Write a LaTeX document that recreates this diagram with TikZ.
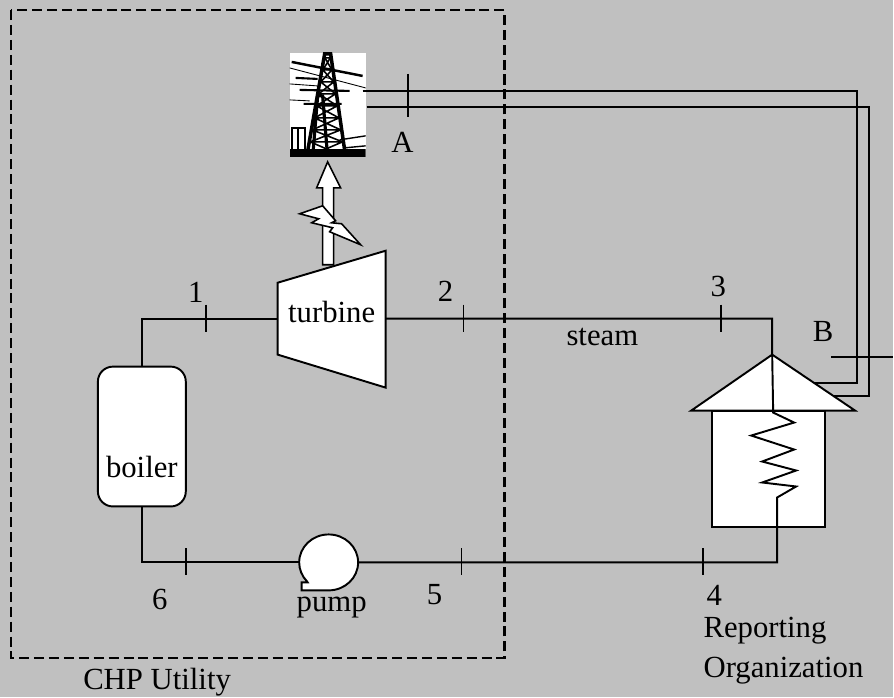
\documentclass[tikz,border=0pt]{standalone}
\usepackage{fontspec}
\setmainfont{Liberation Serif}
\usepackage{tikz}
\usetikzlibrary{positioning}
\definecolor{panel}{HTML}{C0C0C0}
\tikzset{
	pipe/.style={line width=1.1pt},
	wire/.style={line width=1.1pt},
	pipetick/.style={line width=1.1pt},
	part/.style={draw=black,fill=white,line width=1.1pt},
	lbl/.style={inner sep=0pt}
}

\begin{document}
\begin{tikzpicture}[x=0.02cm,y=-0.02cm,font=\fontsize{17.5}{23}\selectfont]
	\fill[panel] (0,0) rectangle (894,698);
	\draw[line width=1.2pt,dash pattern=on 5.7pt off 2.8pt] (11,10) rectangle (505,659);
	% pylon picture
	\fill[white] (290,53) rectangle (366,157);
	\begin{scope}
		\clip (290,53) rectangle (366,157);
		\draw[line width=2pt] (307,157) -- (325,54) -- (331,54) -- (346,157);
		\foreach \ya/\yb in {58/70,70/82,82/94,94/106,106/118,118/130,130/142,142/157}
			\draw[line width=0.9pt] ({326-(\ya-54)*0.175},\ya) -- ({330+(\yb-54)*0.146},\yb)
				({330+(\ya-54)*0.146},\ya) -- ({326-(\yb-54)*0.175},\yb)
				({326-(\ya-54)*0.175},\ya) -- ({330+(\ya-54)*0.146},\ya);
		\draw[line width=1.4pt] (292,62) -- (363,76);
		\draw[line width=1.2pt] (300,90) -- (350,91) (304,104) -- (342,104) (296,78) -- (318,79);
		\draw[line width=0.5pt] (290,68) -- (366,88) (290,84) -- (318,86) (290,100) -- (310,101);
		\draw[line width=1.8pt] (313,157) -- (318,96) -- (323,96) -- (328,157);
		\draw[line width=1.2pt] (292,157) -- (292,128) -- (305,128) -- (305,157) (298,128) -- (298,157);
		\draw[line width=0.8pt] (340,140) -- (366,136) (345,148) -- (366,146);
		\fill (290,149) rectangle (366,157);
	\end{scope}
	\coordinate (tower-a) at (363,91);
	\coordinate (tower-b) at (367,107);
	% power out
	\draw[part,line width=0.9pt] (323,265) -- (323,188) -- (317,188) -- (328,162) -- (341,188) -- (334,188) -- (334,265) -- cycle;
	\draw[part,line width=0.9pt] (300,214) -- (323,206) -- (336,221) -- (332,223) -- (342,224) -- (361,245) -- (330,232) -- (333,228) -- (312,223) -- (319,219) -- cycle;
	% turbine
	\draw[part] (278,283) -- (386,251) -- (386,388) -- (278,355) -- cycle;
	\node[lbl] (turbine) at (332,312) {turbine};
	\coordinate (tb-in) at (278,319);
	\coordinate (tb-out) at (386,319);
	% boiler
	\node[part,rounded corners=0.3cm,minimum width=1.76cm,minimum height=2.8cm] (boiler) at (142,437) {};
	\node[lbl] (boiler-txt) at (142,467) {boiler};
	% pump
	\draw[part] (329,591) arc[start angle=90,end angle=-222.6,x radius=29.5,y radius=28] -- (308,583) -- (302,583) -- (302,591) -- cycle;
	\coordinate (pump-w) at (299.5,563);
	\coordinate (pump-e) at (358.5,563);
	% reporting organization
	\node[part,minimum width=2.26cm,minimum height=2.34cm] (house) at (769.5,469.5) {};
	\draw[part] (692,411) -- (773,355) -- (856,411) -- cycle;
	\coordinate (roof-top) at (773,355);
	\coordinate (roof-a) at (815,383);
	\coordinate (roof-b) at (834,396);
	\coordinate (coil-in) at (774,413);
	\coordinate (coil-out) at (778,498);
	% pipes
	\draw[pipe] (boiler.north) |- (tb-in);
	\draw[pipe] (tb-out) -| (roof-top) -- (coil-in) -- (795,423) -- (752,436) -- (795,450) -- (763,462)
		-- (797,471) -- (763,483) -- (797,487) -- (coil-out) |- (pump-e);
	\draw[pipe] (boiler.south) |- (pump-w);
	% wires
	\coordinate (bend-a) at (858,91);
	\coordinate (bend-b) at (870,107);
	\draw[wire] (tower-a) -- (bend-a) |- (roof-a);
	\draw[wire] (tower-b) -- (bend-b) |- (roof-b);
	% metering points
	\foreach \x in {206,464,722}
		\draw[pipetick] (\x,305) -- (\x,332);
	\foreach \x in {186,462,704}
		\draw[pipetick] (\x,549) -- (\x,576);
	\draw[pipetick] (408,74) -- (408,117);
	\draw[pipetick] (832,357) -- (894,357);
	\node[lbl] (p1) at (196,293) {1};
	\node[lbl] (p2) at (446,292) {2};
	\node[lbl] (p3) at (719,287) {3};
	\node[lbl] (p4) at (715,596) {4};
	\node[lbl] (p5) at (435,595) {5};
	\node[lbl] (p6) at (160,600) {6};
	\node[lbl] (pA) at (403,143) {A};
	\node[lbl] (pB) at (824,332) {B};
	\node[lbl] (steam) at (603,337) {steam};
	\node[lbl] (pump) at (332,608) {pump};
	\node[lbl,anchor=base west] (chp) at (83,690) {CHP Utility};
	\node[lbl,anchor=north west,align=left] (org) at (704,617) {Reporting\\Organization};
\end{tikzpicture}
\end{document}
